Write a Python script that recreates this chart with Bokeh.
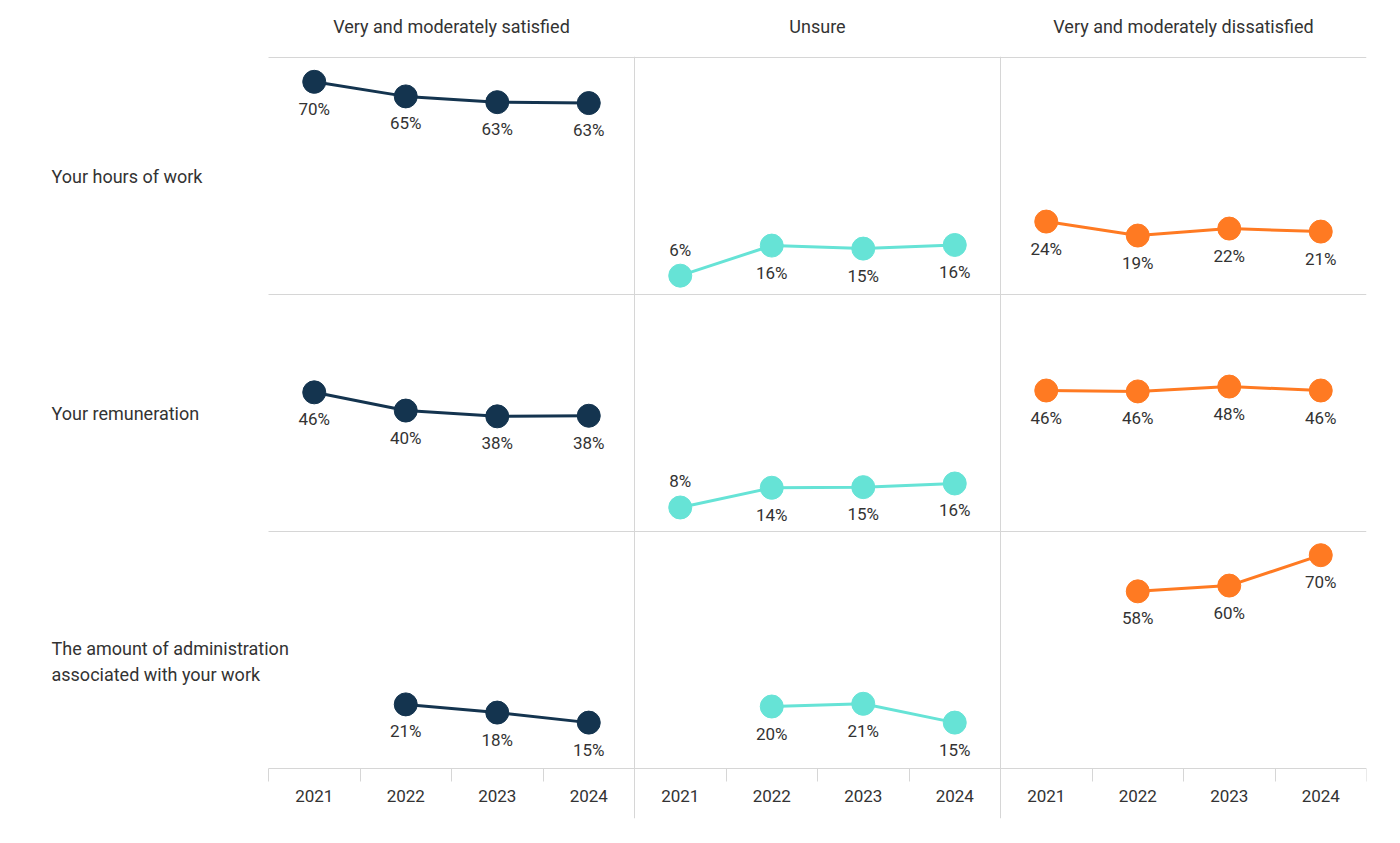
import math
from bokeh.plotting import figure
from bokeh.models import Range1d, FixedTicker, LinearAxis, ColumnDataSource, Grid
from bokeh.embed import file_html
from bokeh.resources import INLINE
from bokeh.core.properties import value

nan = float("nan")

# ---------------- data ----------------
columns = ["Very and moderately satisfied", "Unsure", "Very and moderately dissatisfied"]
rows = ["Your hours of work", "Your remuneration",
        "The amount of administration\nassociated with your work"]
years = [2021, 2022, 2023, 2024]
year_labels = ["2021", "2022", "2023", "2024"]

hours_satisfied = [70.0, 65.2, 63.3, 63.0]
hours_unsure = [6.2, 16.1, 15.1, 16.3]
hours_dissatisfied = [24.0, 19.4, 21.7, 20.7]

remuneration_satisfied = [45.8, 39.8, 37.9, 38.1]
remuneration_unsure = [7.9, 14.4, 14.6, 15.8]
remuneration_dissatisfied = [46.4, 46.1, 47.7, 46.4]

admin_satisfied = [nan, 21.1, 18.4, 15.1]
admin_unsure = [nan, 20.4, 21.3, 15.1]
admin_dissatisfied = [nan, 58.3, 60.2, 70.2]

series = [
    [hours_satisfied, hours_unsure, hours_dissatisfied],
    [remuneration_satisfied, remuneration_unsure, remuneration_dissatisfied],
    [admin_satisfied, admin_unsure, admin_dissatisfied],
]
colors = ["#14344f", "#66e3d6", "#ff7a22"]

# ---------------- layout ----------------
PX_X = 366          # px per column
PX_Y = 237          # px per row
LABEL_W = 268       # width of the row-label area left of the panels
TOP, BOTTOM, RIGHT = 56, 10, 2
X0 = -LABEL_W / PX_X
X1 = 3.0
Y0 = -50 / PX_Y     # frame bottom (below last row, room for year labels)
Y1 = 3 + 1 / PX_Y   # frame top
FRAME_W = LABEL_W + 3 * PX_X
FRAME_H = round((Y1 - Y0) * PX_Y)
RMAX = 78.0         # value at the top of each row band

TEXT = "#333333"
GRID = "#d6d6d6"
FONT = "Roboto"
FS = "17px"       # values and years
FS_CAT = "18px"   # headers and row labels

p = figure(width=FRAME_W + RIGHT, height=TOP + FRAME_H + BOTTOM,
           x_range=Range1d(X0, X1), y_range=Range1d(Y0, Y1),
           x_axis_location=None, y_axis_location=None,
           min_border_left=0, min_border_right=RIGHT,
           min_border_top=TOP, min_border_bottom=BOTTOM,
           output_backend="svg", toolbar_location=None)
p.outline_line_color = None
p.background_fill_color = "white"
p.border_fill_color = "white"
p.xgrid.visible = False
p.ygrid.visible = False

# each column: years mapped into its own third of the panel area
p.extra_x_ranges = {f"c{c}": Range1d(2020.5 + 4 * (X0 - c), 2020.5 + 4 * (X1 - c))
                    for c in range(3)}
# each row: 0..RMAX mapped into its own third of the panel area
p.extra_y_ranges = {f"r{r}": Range1d(RMAX * (Y0 - 2 + r), RMAX * (Y1 - 2 + r))
                    for r in range(3)}

# separators
row_bounds = [0, 1, 2, 3]
if "cross_bounds" in Grid.properties():
    p.add_layout(Grid(dimension=1, ticker=FixedTicker(ticks=row_bounds),
                      cross_bounds=(0, 3),
                      grid_line_color=GRID, grid_line_width=1))
else:
    p.segment(x0=[0] * 4, x1=[3] * 4, y0=row_bounds, y1=row_bounds,
              line_color=GRID, line_width=1)
p.add_layout(Grid(dimension=0, ticker=FixedTicker(ticks=[1, 2]),
                  grid_line_color=GRID, grid_line_width=1))

# column headers (axis above, one tick per column centre)
centres = [c + 0.5 for c in range(3)]
hax = LinearAxis(ticker=FixedTicker(ticks=centres))
hax.major_label_overrides = {x: name for x, name in zip(centres, columns)}
hax.axis_line_color = None
hax.major_tick_line_color = None
hax.minor_tick_line_color = None
hax.major_tick_out = 0
hax.major_tick_in = 0
hax.major_label_standoff = 20
hax.major_label_text_font = FONT
hax.major_label_text_font_size = FS_CAT
hax.major_label_text_color = TEXT
p.add_layout(hax, "above")

# year axes
boundaries = [y - 0.5 for y in years] + [years[-1] + 0.5]
for c in range(3):
    ax = LinearAxis(x_range_name=f"c{c}", fixed_location=0,
                    ticker=FixedTicker(ticks=years, minor_ticks=boundaries))
    ax.major_label_overrides = {y: l for y, l in zip(years, year_labels)}
    ax.axis_line_color = None
    ax.major_tick_line_color = None
    ax.major_tick_out = 0
    ax.major_tick_in = 0
    ax.minor_tick_line_color = GRID
    ax.minor_tick_out = 13
    ax.minor_tick_in = 0
    ax.major_label_standoff = 8
    ax.major_label_text_font = FONT
    ax.major_label_text_font_size = FS
    ax.major_label_text_color = TEXT
    p.add_layout(ax, "below")

# lines, points and value labels
for r in range(3):
    for c in range(3):
        vals = series[r][c]
        xs = [y for y, v in zip(years, vals) if not math.isnan(v)]
        vs = [v for v in vals if not math.isnan(v)]
        labels = [f"{round(v)}%" for v in vs]
        offs = [-26 if v < 10 else 27 for v in vs]
        src = ColumnDataSource(dict(x=xs, y=vs, label=labels, off=offs))
        kw = dict(x_range_name=f"c{c}", y_range_name=f"r{r}")
        p.line("x", "y", source=src, line_color=colors[c], line_width=3, **kw)
        p.scatter("x", "y", source=src, size=23, fill_color=colors[c],
                  line_color=colors[c], **kw)
        p.text("x", "y", text="label", source=src, y_offset="off",
               text_font=value(FONT), text_font_size=value(FS),
               text_color=TEXT, text_align=value("center"),
               text_baseline=value("middle"), **kw)

# row labels
row_y = [2.5, 1.5, 0.45]
p.text(x=[(51 - LABEL_W) / PX_X] * len(rows), y=row_y, text=rows,
       text_font=value(FONT), text_font_size=value(FS_CAT), text_color=TEXT,
       text_align=value("left"), text_baseline=value("middle"),
       text_line_height=1.23)

open("out.html", "w").write(file_html(p, INLINE))
